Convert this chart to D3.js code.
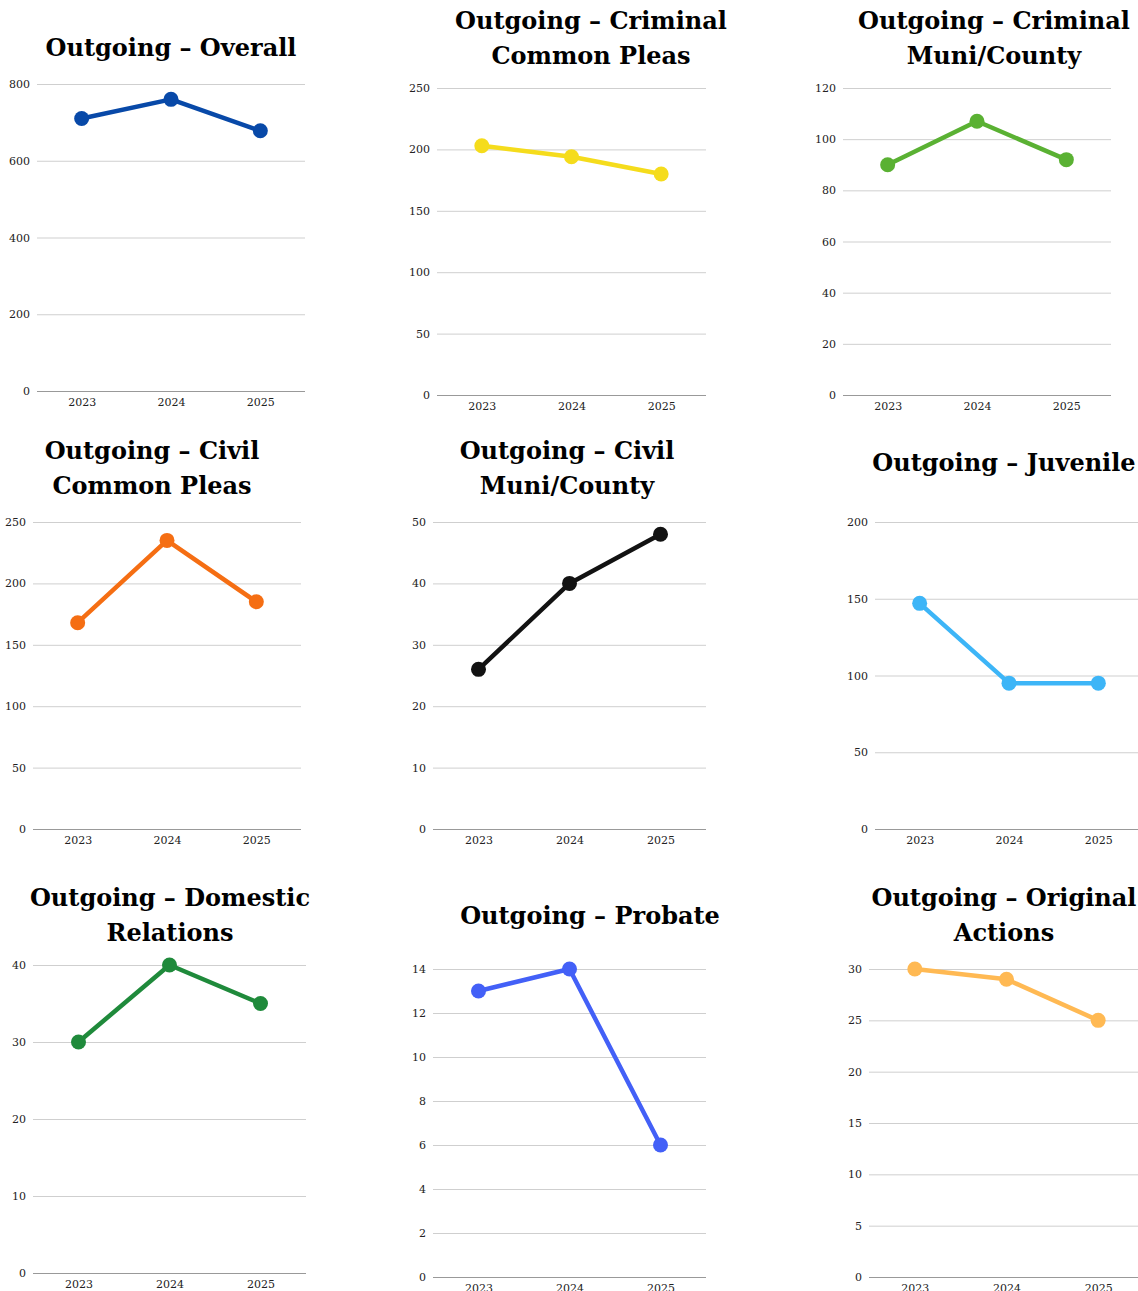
<!DOCTYPE html>
<html><head><meta charset="utf-8">
<script src="https://cdn.jsdelivr.net/npm/d3@7"></script>
<style>body{margin:0;background:#fff;overflow:hidden}svg{display:block}</style>
</head><body>
<script>
const years = ["2023", "2024", "2025"];
const titles = [
  ["Outgoing – Overall"],
  ["Outgoing – Criminal", "Common Pleas"],
  ["Outgoing – Criminal", "Muni/County"],
  ["Outgoing – Civil", "Common Pleas"],
  ["Outgoing – Civil", "Muni/County"],
  ["Outgoing – Juvenile"],
  ["Outgoing – Domestic", "Relations"],
  ["Outgoing – Probate"],
  ["Outgoing – Original", "Actions"]
];
const overall = [710, 760, 678];
const criminalCommonPleas = [203, 194, 180];
const criminalMuniCounty = [90, 107, 92];
const civilCommonPleas = [168, 235, 185];
const civilMuniCounty = [26, 40, 48];
const juvenile = [147, 95, 95];
const domesticRelations = [30, 40, 35];
const probate = [13, 14, 6];
const originalActions = [30, 29, 25];
const seriesValues = [overall, criminalCommonPleas, criminalMuniCounty, civilCommonPleas, civilMuniCounty, juvenile, domesticRelations, probate, originalActions];
const yMax = [800, 250, 120, 250, 50, 200, 40, 14, 30];
const yTicks = [
  [0, 200, 400, 600, 800],
  [0, 50, 100, 150, 200, 250],
  [0, 20, 40, 60, 80, 100, 120],
  [0, 50, 100, 150, 200, 250],
  [0, 10, 20, 30, 40, 50],
  [0, 50, 100, 150, 200],
  [0, 10, 20, 30, 40],
  [0, 2, 4, 6, 8, 10, 12, 14],
  [0, 5, 10, 15, 20, 25, 30]
];
const colors = ["#0849a8", "#f5dc1c", "#5ab133", "#f56e13", "#121212", "#3db5f7", "#1f8a3b", "#4360f7", "#ffb953"];

// layout (positions only)
const layout = [
  {l: 37, r: 305, t: 84, b: 391, tx: 171, ty: 56},
  {l: 437, r: 706, t: 88, b: 395, tx: 591, ty: 29},
  {l: 843, r: 1111, t: 88, b: 395, tx: 994, ty: 29},
  {l: 33, r: 301, t: 522, b: 829, tx: 152, ty: 459},
  {l: 433, r: 706, t: 522, b: 829, tx: 567, ty: 459},
  {l: 875, r: 1143, t: 522, b: 829, tx: 1004, ty: 471},
  {l: 33, r: 306, t: 965, b: 1273, tx: 170, ty: 906},
  {l: 433, r: 706, t: 969, b: 1277, tx: 590, ty: 924},
  {l: 869, r: 1144, t: 969, b: 1277, tx: 1004, ty: 906}
];

const svg = d3.select("body").append("svg").attr("width", 1138).attr("height", 1291);
const serif = "Georgia, 'DejaVu Serif', serif";

seriesValues.forEach((vals, i) => {
  const L = layout[i];
  const g = svg.append("g");
  const x = d3.scalePoint().domain(years).range([L.l, L.r]).padding(0.5);
  const y = d3.scaleLinear().domain([0, yMax[i]]).range([L.b, L.t]);

  // title
  const tt = g.append("text").attr("x", L.tx).attr("y", L.ty)
    .attr("text-anchor", "middle").attr("font-family", serif)
    .attr("font-weight", "bold").attr("font-size", 24).attr("fill", "#000");
  titles[i].forEach((line, k) => {
    tt.append("tspan").attr("x", L.tx).attr("dy", k === 0 ? 0 : 35).text(line);
  });

  // y axis grid
  const ya = d3.axisLeft(y).tickValues(yTicks[i]).tickSize(-(L.r - L.l)).tickPadding(7).tickFormat(d3.format("d"));
  const yg = g.append("g").attr("transform", `translate(${L.l},0)`).call(ya);
  yg.select(".domain").remove();
  yg.selectAll(".tick line").attr("stroke", d => d === 0 ? "#999" : "#cfcfcf").attr("stroke-width", 1);
  yg.selectAll(".tick text").attr("font-family", serif).attr("font-size", 11).attr("fill", "#222");

  // x axis
  const xa = d3.axisBottom(x).tickSize(0).tickPadding(7);
  const xg = g.append("g").attr("transform", `translate(0,${L.b})`).call(xa);
  xg.select(".domain").remove();
  xg.selectAll(".tick text").attr("font-family", serif).attr("font-size", 11).attr("fill", "#222");

  const line = d3.line().x((d, k) => x(years[k])).y(d => y(d));
  g.append("path").datum(vals).attr("d", line).attr("fill", "none")
    .attr("stroke", colors[i]).attr("stroke-width", 4.5).attr("stroke-linejoin", "round");
  g.selectAll("circle").data(vals).join("circle")
    .attr("cx", (d, k) => x(years[k])).attr("cy", d => y(d)).attr("r", 7.5)
    .attr("fill", colors[i]);
});
</script>
</body></html>
